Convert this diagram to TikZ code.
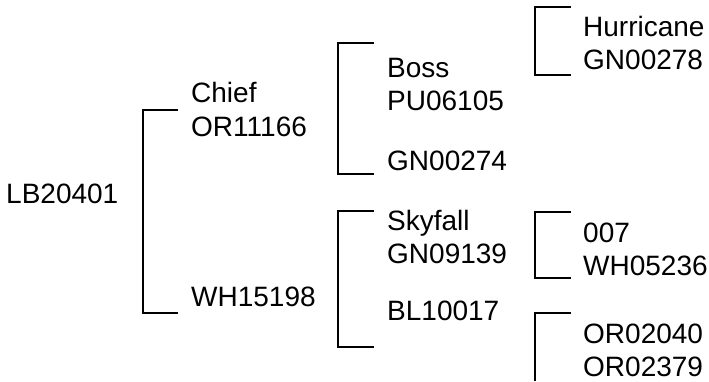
\documentclass[tikz,border=0pt]{standalone}
\usepackage{fontspec}
\setmainfont{Liberation Sans}
\begin{document}
\begin{tikzpicture}[x=1pt, y=-1pt,
    lbl/.style={anchor=base west, inner sep=0pt, font=\fontsize{28}{32}\selectfont},
    bracket/.style={line width=1.3pt}]
    \useasboundingbox (0,0) rectangle (709,381);

    % 本犬
    \node[lbl] (lb) at (6,203) {LB20401};

    % 父母
    \node[lbl] (chief) at (191,102) {Chief};
    \node[lbl] (chiefid) at (191,136) {OR11166};
    \node[lbl] (wh) at (191,306) {WH15198};

    % 祖父母
    \node[lbl] (boss) at (387,77) {Boss};
    \node[lbl] (bossid) at (387,110) {PU06105};
    \node[lbl] (gn274) at (387,170) {GN00274};
    \node[lbl] (skyfall) at (387,230) {Skyfall};
    \node[lbl] (skyfallid) at (387,263) {GN09139};
    \node[lbl] (bl) at (387,320) {BL10017};

    % 曾祖父母
    \node[lbl] (hurricane) at (583,36) {Hurricane};
    \node[lbl] (hurricaneid) at (583,69) {GN00278};
    \node[lbl] (bond) at (583,242) {007};
    \node[lbl] (bondid) at (583,275) {WH05236};
    \node[lbl] (or040) at (583,343) {OR02040};
    \node[lbl] (or379) at (583,376) {OR02379};

    % 括号
    \coordinate (b1t) at (178,110);
    \coordinate (b1b) at (178,313);
    \draw[bracket] (b1t) -- ++(-35,0) |- (b1b);

    \coordinate (b2t) at (374,43);
    \coordinate (b2b) at (374,174);
    \draw[bracket] (b2t) -- ++(-36,0) |- (b2b);

    \coordinate (b3t) at (374,211);
    \coordinate (b3b) at (374,347);
    \draw[bracket] (b3t) -- ++(-36,0) |- (b3b);

    \coordinate (b4t) at (571,7);
    \coordinate (b4b) at (571,75);
    \draw[bracket] (b4t) -- ++(-36,0) |- (b4b);

    \coordinate (b5t) at (571,212);
    \coordinate (b5b) at (571,278);
    \draw[bracket] (b5t) -- ++(-36,0) |- (b5b);

    \coordinate (b6t) at (571,313);
    \coordinate (b6b) at (535,381);
    \draw[bracket] (b6t) -- ++(-36,0) -- (b6b);
\end{tikzpicture}
\end{document}
